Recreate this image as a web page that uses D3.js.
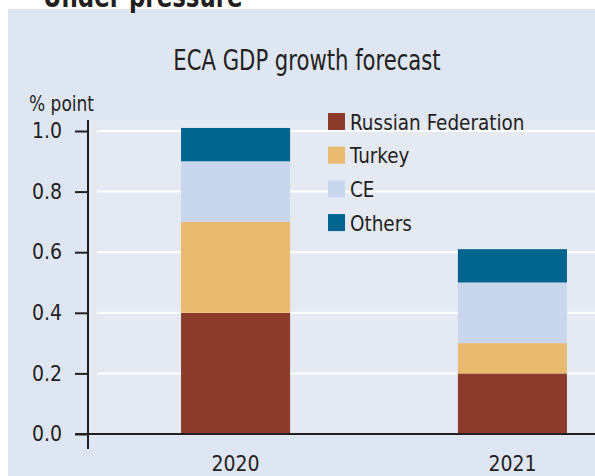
<!DOCTYPE html>
<html>
<head>
<meta charset="utf-8">
<script src="https://cdn.jsdelivr.net/npm/d3@7"></script>
<style>
    body { margin: 0; background: #ffffff; }
    svg text { font-family: "Liberation Sans Narrow", "DejaVu Sans Condensed", "Roboto Condensed", sans-serif; fill: #231f20; }
</style>
</head>
<body>
<div id="chart"></div>
<script>
let years = ['2020', '2021']
let series = ['Russian Federation', 'Turkey', 'CE', 'Others']
let russia = [0.40, 0.20]
let turkey = [0.30, 0.10]
let ce = [0.20, 0.20]
let others = [0.11, 0.11]
let yTicks = [0.0, 0.2, 0.4, 0.6, 0.8, 1.0]
let colors = ['#8b3c2d', '#e8bb71', '#c8d6ee', '#00658e']

// narrow the glyphs a bit, the original uses a condensed face
function squeeze(sel, k) {
    sel.each(function() {
        let w = this.getComputedTextLength()
        d3.select(this)
            .attr('textLength', w * k)
            .attr('lengthAdjust', 'spacingAndGlyphs')
    })
}

function drawChart() {
    let svgWidth = 595
    let svgHeight = 476
    let padding = { 'left': 88, 'right': 0, 'top': 131, 'bottom': 42 }

    let svg = d3.select('#chart').append('svg')
        .attr('width', svgWidth)
        .attr('height', svgHeight)

    // panel background
    svg.append('rect')
        .attr('x', 8).attr('y', 9)
        .attr('width', svgWidth - 8).attr('height', svgHeight - 9)
        .attr('fill', '#dfe6f3')

    svg.append('text')
        .attr('x', 43).attr('y', 7)
        .attr('font-size', '31px')
        .attr('font-weight', 'bold')
        .text('Under pressure')
        .call(squeeze, 0.82)

    let data = years.map((y, i) => ({
        'year': y,
        'Russian Federation': russia[i],
        'Turkey': turkey[i],
        'CE': ce[i],
        'Others': others[i]
    }))
    let stacked = d3.stack().keys(series)(data)

    let x = d3.scaleBand()
        .domain(years)
        .range([padding.left, 660])
        .paddingInner(0.606)
        .paddingOuter(0.336)

    let y = d3.scaleLinear()
        .domain([0, 1])
        .range([svgHeight - padding.bottom, padding.top])

    // plot background
    svg.append('rect')
        .attr('x', padding.left)
        .attr('y', 120)
        .attr('width', svgWidth - padding.left)
        .attr('height', y(0) - 120)
        .attr('fill', '#e4e9f2')

    // gridlines
    svg.append('g')
        .selectAll('line')
        .data(yTicks.filter(d => d > 0))
        .enter()
        .append('line')
        .attr('x1', 97)
        .attr('x2', svgWidth)
        .attr('y1', d => y(d))
        .attr('y2', d => y(d))
        .attr('stroke', '#ffffff')
        .attr('stroke-width', 2)

    svg.append('g')
        .selectAll('g')
        .data(stacked)
        .enter()
        .append('g')
        .attr('fill', (d, i) => colors[i])
        .selectAll('rect')
        .data(d => d)
        .enter()
        .append('rect')
        .attr('x', d => x(d.data.year))
        .attr('y', d => y(d[1]))
        .attr('width', x.bandwidth())
        .attr('height', d => y(d[0]) - y(d[1]))

    // y axis
    let axis_y = d3.axisLeft()
        .scale(y)
        .tickValues(yTicks)
        .tickSize(13)
        .tickPadding(13)
        .tickFormat(d3.format('.1f'))
    let gy = svg.append('g')
        .attr('transform', `translate(${padding.left}, 0)`)
        .call(axis_y)
    gy.select('.domain').remove()
    gy.selectAll('line').attr('stroke', '#231f20').attr('stroke-width', 2)
    gy.selectAll('text').attr('font-size', '21px').attr('fill', '#231f20')
    gy.append('line')
        .attr('x1', 0).attr('x2', 0)
        .attr('y1', 120).attr('y2', y(0) + 15)
        .attr('stroke', '#231f20').attr('stroke-width', 2)

    // x axis
    svg.append('line')
        .attr('x1', 75).attr('x2', svgWidth)
        .attr('y1', y(0)).attr('y2', y(0))
        .attr('stroke', '#231f20').attr('stroke-width', 2)
    svg.append('g')
        .selectAll('text')
        .data(years)
        .enter()
        .append('text')
        .attr('x', d => x(d) + x.bandwidth() / 2)
        .attr('y', 471)
        .attr('text-anchor', 'middle')
        .attr('font-size', '21px')
        .text(d => d)

    svg.append('text')
        .attr('x', 307).attr('y', 70)
        .attr('text-anchor', 'middle')
        .attr('font-size', '28px')
        .text('ECA GDP growth forecast')
        .call(squeeze, 0.84)

    svg.append('text')
        .attr('x', 29).attr('y', 111)
        .attr('font-size', '22px')
        .text('% point')
        .call(squeeze, 0.86)

    // legend
    let legend = svg.append('g')
        .selectAll('g')
        .data(series)
        .enter()
        .append('g')
        .attr('transform', (d, i) => `translate(328, ${113 + i * 33.7})`)
    legend.append('rect')
        .attr('width', 17).attr('height', 17)
        .attr('fill', (d, i) => colors[i])
    legend.append('text')
        .attr('x', 22).attr('y', 9)
        .attr('dy', '0.35em')
        .attr('font-size', '22px')
        .text(d => d)
        .call(squeeze, 0.93)
}

drawChart()
</script>
</body>
</html>
